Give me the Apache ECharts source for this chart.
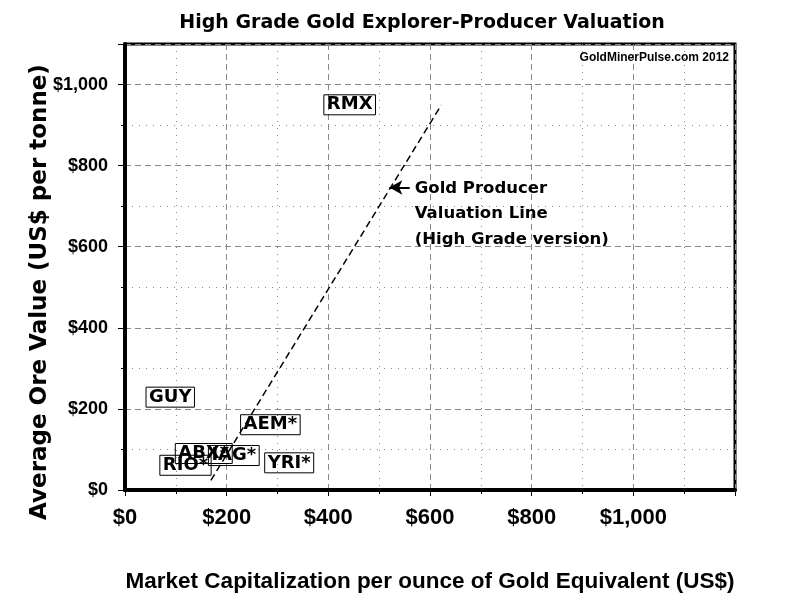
<!DOCTYPE html>
<html>
<head>
<meta charset="utf-8">
<script src="https://cdn.jsdelivr.net/npm/echarts@6/dist/echarts.min.js"></script>
<style>html,body{margin:0;padding:0;background:#fff}#c{width:792px;height:611px}</style>
</head>
<body>
<div id="c"></div>
<script>
// ---- data ----
const companies = ['RMX', 'GUY', 'AEM*', 'YRI*', 'ABX*', 'IAG*', 'RIO*'];
const marketCap = [442, 89, 286, 323, 155, 214, 119];
const oreValue = [950, 229, 161, 67, 90, 85, 61];
const valuationLineX = [169, 622];
const valuationLineY = [24, 949];
const xTicks = [0, 200, 400, 600, 800, 1000];
const yTicks = [0, 200, 400, 600, 800, 1000];
const arrowFrom = [560, 746];
const arrowTo = [520, 746];
const noteAnchor = [570, 746];
const noteLines = ['Gold Producer', 'Valuation Line', '(High Grade version)'];

const chart = echarts.init(document.getElementById('c'), null, {renderer: 'canvas'});
const money = v => '$' + v.toLocaleString('en-US');
const boldFont = "'Liberation Sans', Arial, sans-serif";
const wideFont = "'DejaVu Sans', Verdana, sans-serif";

const pts = companies.map((n, i) => ({name: n, value: [marketCap[i], oreValue[i]]}));

chart.setOption({
  animation: false,
  backgroundColor: '#fff',
  title: {
    text: 'High Grade Gold Explorer-Producer Valuation',
    left: 417, top: 9, textAlign: 'center',
    textStyle: {fontFamily: wideFont, fontWeight: 'bold', fontSize: 19, color: '#000'}
  },
  grid: {left: 125, right: 57, top: 44, bottom: 121, show: true, borderColor: '#000', borderWidth: 3, backgroundColor: 'transparent'},
  xAxis: {
    type: 'value', min: 0, max: 1200, interval: 200,
    name: 'Market Capitalization per ounce of Gold Equivalent (US$)',
    nameLocation: 'middle', nameGap: 80,
    nameTextStyle: {fontFamily: boldFont, fontWeight: 'bold', fontSize: 22.5, color: '#000'},
    axisLine: {show: true, lineStyle: {color: '#000', width: 4}},
    axisTick: {show: true, length: 6, lineStyle: {color: '#000', width: 1}},
    minorTick: {show: true, splitNumber: 2, length: 4, lineStyle: {color: '#000'}},
    splitLine: {show: true, lineStyle: {color: '#888', type: [6, 4], width: 1}},
    minorSplitLine: {show: true, lineStyle: {color: '#888', type: [1, 6], width: 1}},
    axisLabel: {
      margin: 17, color: '#000', fontFamily: boldFont, fontWeight: 'bold', fontSize: 22,
      formatter: v => xTicks.includes(v) ? money(v) : ''
    }
  },
  yAxis: {
    type: 'value', min: 0, max: 1100, interval: 200,
    axisLine: {show: true, lineStyle: {color: '#000', width: 4}},
    axisTick: {show: true, length: 7, lineStyle: {color: '#000', width: 1}},
    minorTick: {show: true, splitNumber: 2, length: 4, lineStyle: {color: '#000'}},
    splitLine: {show: true, lineStyle: {color: '#888', type: [6, 4], width: 1}},
    minorSplitLine: {show: true, lineStyle: {color: '#888', type: [1, 6], width: 1}},
    axisLabel: {
      margin: 17, color: '#000', fontFamily: boldFont, fontWeight: 'bold', fontSize: 18,
      formatter: v => yTicks.includes(v) ? money(v) : ''
    }
  },
  series: [
    {
      type: 'line',
      data: valuationLineX.map((x, i) => [x, valuationLineY[i]]),
      symbol: 'none',
      lineStyle: {color: '#000', width: 1.5, type: [7, 4]},
      z: 6,
      markLine: {
        silent: true,
        symbol: ['none', 'arrow'], symbolSize: [11, 13],
        lineStyle: {color: '#000', width: 2, type: 'solid'},
        label: {show: false},
        data: [[{coord: arrowFrom}, {coord: arrowTo}]]
      }
    },
    {
      type: 'scatter',
      data: pts,
      symbolSize: 0,
      itemStyle: {opacity: 1, color: '#000'},
      z: 5,
      label: {
        show: true, position: 'inside', formatter: p => p.name,
        fontFamily: wideFont, fontWeight: 'bold', fontSize: 18, color: '#000',
        borderColor: '#000', borderWidth: 1,
        padding: [2, 3, 0, 3]
      }
    }
  ]
});

function addGraphics() {
  const p = chart.convertToPixel({gridIndex: 0}, noteAnchor);
  const tr = chart.convertToPixel({gridIndex: 0}, [1200, 1100]);
  const bl = chart.convertToPixel({gridIndex: 0}, [0, 0]);
  chart.setOption({
    graphic: [
      {
        type: 'text', left: p[0], top: p[1] - 12,
        style: {
          text: noteLines.join('\n'), fill: '#000',
          font: "bold 16.5px 'DejaVu Sans', Verdana, sans-serif",
          lineHeight: 25.5
        }
      },
      {
        type: 'text', right: 792 - tr[0] + 6, top: tr[1] + 8,
        style: {
          text: 'GoldMinerPulse.com 2012', fill: '#000',
          font: "bold 12px 'Liberation Sans', Arial, sans-serif"
        }
      },
      {
        type: 'text', x: bl[0] - 85, y: 292, rotation: Math.PI / 2,
        style: {
          text: 'Average Ore Value (US$ per tonne)', fill: '#000',
          font: "bold 23px 'DejaVu Sans', Verdana, sans-serif",
          align: 'center', verticalAlign: 'middle'
        },
        z: 100
      }
    ]
  });
}
addGraphics();
</script>
</body>
</html>
